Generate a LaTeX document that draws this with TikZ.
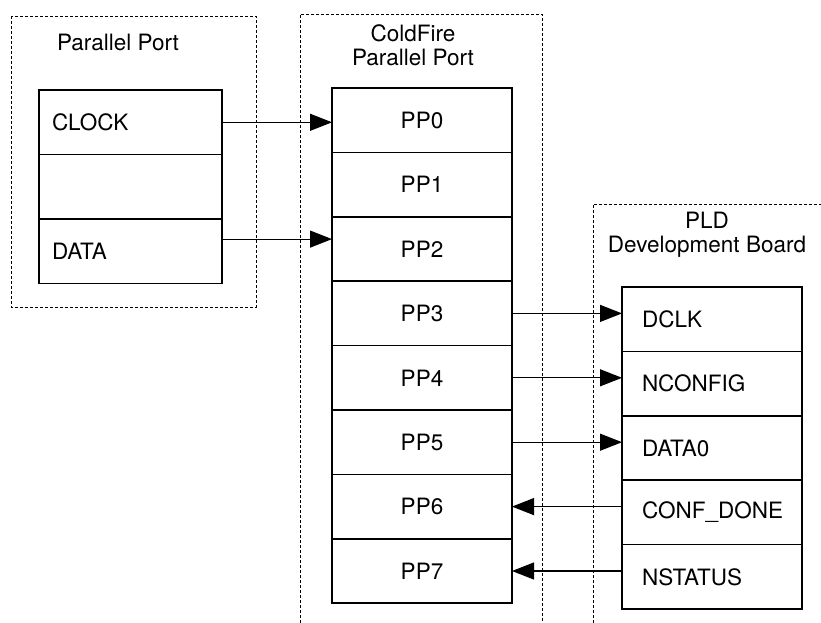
\documentclass[tikz,border=0pt]{standalone}
\usepackage{fontspec}
\setmainfont{TeX Gyre Heros}
\usetikzlibrary{positioning,arrows.meta}

\begin{document}
\begin{tikzpicture}[x=1pt,y=-1pt,->,>={Triangle[length=22pt,width=17pt]},line width=1.2pt,
    font=\fontsize{22.5}{24}\selectfont,
    frame/.style={-,dash pattern=on 3pt off 2pt,line width=0.8pt},
    cell node/.style={rectangle,draw,line width=1.5pt,outer sep=0pt,minimum height=64.4pt,inner xsep=0pt,text width=180pt,align=center},
    left node/.style={cell node,inner xsep=13pt,text width=157pt,align=left},
    pin node/.style={cell node,inner xsep=20pt,text width=140pt,align=left}]
\useasboundingbox (0,0) rectangle (821,623);

% dotted frames
\draw[frame] (11,16) rectangle (256,307);
\draw[frame] (300,623) -- (300,14) -- (542,14) -- (542,623);
\draw[frame] (593,623) -- (593,204) -- (821,204);

\node (pptitle) at (118,42) {Parallel Port};
\node[align=center] (cftitle) at (413,45) {ColdFire\\Parallel Port};
\node[align=center] (pldtitle) at (707,235) {PLD\\Development Board};

% host parallel port
\node[left node] (clock) at (130.5,122.3) {CLOCK};
\node[left node,below=0pt of clock] (empty) {};
\node[left node,below=0pt of empty] (data) {DATA};

% coldfire port
\node[cell node] (pp0) at (422,120.2) {PP0};
\node[cell node,below=0pt of pp0] (pp1) {PP1};
\node[cell node,below=0pt of pp1] (pp2) {PP2};
\node[cell node,below=0pt of pp2] (pp3) {PP3};
\node[cell node,below=0pt of pp3] (pp4) {PP4};
\node[cell node,below=0pt of pp4] (pp5) {PP5};
\node[cell node,below=0pt of pp5] (pp6) {PP6};
\node[cell node,below=0pt of pp6] (pp7) {PP7};

% pld board
\node[pin node] (dclk) at (712,319.2) {DCLK};
\node[pin node,below=0pt of dclk] (nconfig) {NCONFIG};
\node[pin node,below=0pt of nconfig] (data0) {DATA0};
\node[pin node,below=0pt of data0] (confdone) {CONF\_DONE};
\node[pin node,below=0pt of confdone] (nstatus) {NSTATUS};

\draw (clock.east) -- (clock.east -| pp0.west);
\draw ([yshift=12pt]data.east) -- ([yshift=12pt]data.east -| pp2.west);
\draw (pp3.east) -- (pp3.east -| dclk.west);
\draw (pp4.east) -- (pp4.east -| nconfig.west);
\draw (pp5.east) -- (pp5.east -| data0.west);
\draw (pp6.east -| confdone.west) -- (pp6.east);
\draw (pp7.east -| nstatus.west) -- (pp7.east);
\end{tikzpicture}
\end{document}
